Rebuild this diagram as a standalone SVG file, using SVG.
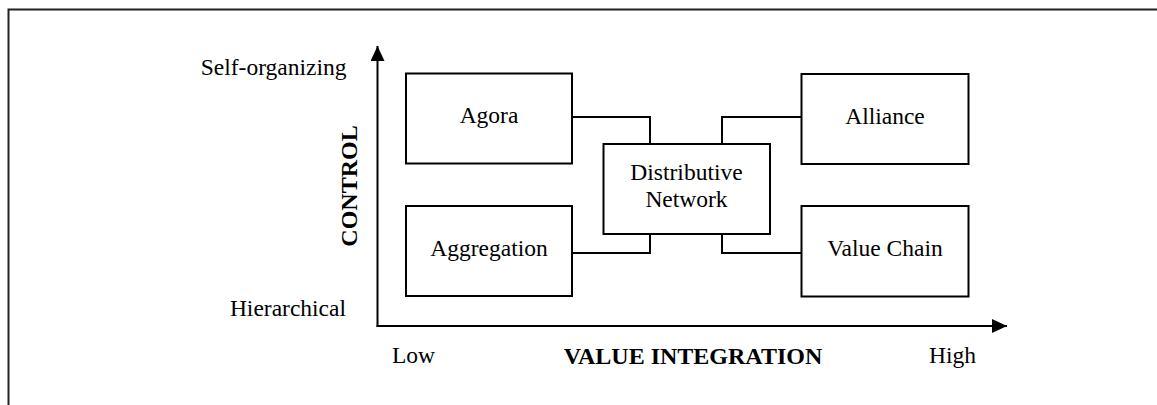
<svg xmlns="http://www.w3.org/2000/svg" width="1157" height="405" viewBox="0 0 1157 405">
  <style>
    .box { fill: #fff; stroke: #000; stroke-width: 2; }
    .line { fill: none; stroke: #000; stroke-width: 2; }
    .txt { font-family: "Liberation Serif", "Times New Roman", serif; font-size: 23.5px; fill: #000; }
    .mid { text-anchor: middle; }
    .bold { font-weight: bold; font-size: 24px; }
  </style>
  <defs>
    <marker id="arrow" viewBox="0 0 15 14" refX="15" refY="7" markerWidth="15" markerHeight="14" markerUnits="userSpaceOnUse" orient="auto">
      <path d="M0,0 L15,7 L0,14 Z" fill="#000"/>
    </marker>
  </defs>

  <!-- page frame -->
  <path d="M8.5,405 V9.5 H1157" fill="none" stroke="#222" stroke-width="2"/>

  <!-- axes -->
  <g id="axes">
    <path class="line" d="M377.5,327 V46" marker-end="url(#arrow)"/>
    <path class="line" d="M376.5,326 H1007" marker-end="url(#arrow)"/>
    <text class="txt" x="346.5" y="75" text-anchor="end">Self-organizing</text>
    <text class="txt" x="346" y="316" text-anchor="end">Hierarchical</text>
    <text class="txt bold mid" transform="translate(357,186) rotate(-90)">CONTROL</text>
    <text class="txt" x="392" y="363">Low</text>
    <text class="txt bold mid" x="693" y="364">VALUE INTEGRATION</text>
    <text class="txt" x="929" y="363">High</text>
  </g>

  <!-- connectors -->
  <g id="connectors">
    <path class="line" d="M571,117 H650 V144"/>
    <path class="line" d="M722,144 V117 H802"/>
    <path class="line" d="M650,234 V253 H571"/>
    <path class="line" d="M722,234 V253 H802"/>
  </g>

  <g id="agora">
    <rect class="box" x="406" y="73.5" width="166" height="90"/>
    <text class="txt mid" x="489" y="123">Agora</text>
  </g>
  <g id="aggregation">
    <rect class="box" x="406" y="206" width="166" height="90"/>
    <text class="txt mid" x="489" y="256">Aggregation</text>
  </g>
  <g id="distributive-network">
    <rect class="box" x="603.5" y="144" width="166.5" height="90"/>
    <text class="txt mid" x="686.5" y="180">Distributive</text>
    <text class="txt mid" x="686.5" y="207">Network</text>
  </g>
  <g id="alliance">
    <rect class="box" x="801.5" y="74" width="167" height="90"/>
    <text class="txt mid" x="885" y="124">Alliance</text>
  </g>
  <g id="value-chain">
    <rect class="box" x="801.5" y="206" width="167" height="90.5"/>
    <text class="txt mid" x="885" y="256">Value Chain</text>
  </g>
</svg>
